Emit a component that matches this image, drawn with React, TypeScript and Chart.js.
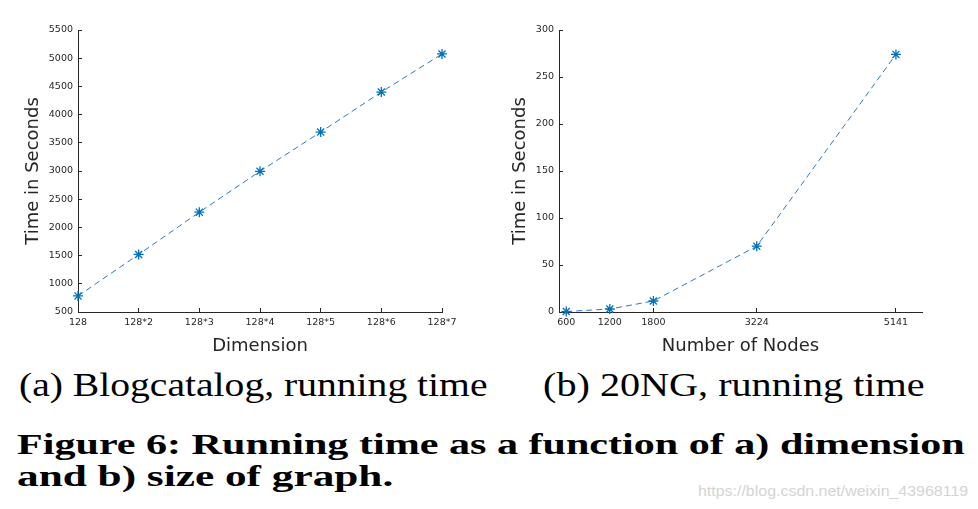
import React, { useEffect, useLayoutEffect, useRef } from "react";
import { Chart, registerables } from "chart.js";

Chart.register(...registerables);

// ---- data ----
const dimLabels = ["128", "128*2", "128*3", "128*4", "128*5", "128*6", "128*7"];
const dimTimes = [785, 1520, 2270, 2995, 3690, 4400, 5075];
const nodeCounts = [600, 1200, 1800, 3224, 5141];
const nodeTimes = [0.5, 3.2, 11.7, 70, 274];

const AX = "#262626";
const BLUE = "#0072BD";
const SANS = "'DejaVu Sans', sans-serif";

function baseDataset(data: any[]) {
  return {
    data,
    borderColor: "#2c78c6",
    borderWidth: 1,
    borderDash: [6, 4],
    pointStyle: "star" as const,
    pointRadius: 5,
    pointBorderColor: BLUE,
    pointBorderWidth: 1.3,
    pointBackgroundColor: BLUE,
    tension: 0,
    clip: false as any,
    fill: false,
  };
}

function axisCommon(titleText: string, titlePad: any, fit: (s: any) => void) {
  return {
    grid: { drawOnChartArea: false, tickLength: -4, color: AX, tickColor: AX, tickWidth: 1 },
    border: { color: AX, width: 1 },
    ticks: {
      font: { family: SANS, size: 9.5 },
      color: AX,
      padding: 9,
      maxRotation: 0,
      autoSkip: false,
    },
    title: {
      display: true,
      text: titleText,
      font: { family: SANS, size: 18 },
      color: AX,
      padding: titlePad,
    },
    afterFit: fit,
  };
}

function LeftChart() {
  const ref = useRef<HTMLCanvasElement>(null);
  useEffect(() => {
    const chart = new Chart(ref.current!, {
      type: "line",
      data: { labels: dimLabels, datasets: [baseDataset(dimTimes) as any] },
      options: {
        animation: false,
        responsive: false,
        devicePixelRatio: 1,
        layout: { autoPadding: false, padding: { left: 0, top: 30, right: 48, bottom: 0 } },
        plugins: { legend: { display: false }, tooltip: { enabled: false } },
        scales: {
          x: {
            type: "category",
            offset: false,
            ...axisCommon("Dimension", { top: 0, bottom: 3 }, (s: any) => { s.height = 48; }),
          } as any,
          y: {
            type: "linear",
            min: 500,
            max: 5500,
            ...axisCommon("Time in Seconds", { top: 23, bottom: 0 }, (s: any) => { s.width = 78; }),
            ticks: {
              font: { family: SANS, size: 9.5 },
              color: AX,
              padding: 9,
              stepSize: 500,
              callback: (v: any) => String(v),
            },
          } as any,
        },
      },
    });
    return () => chart.destroy();
  }, []);
  return <canvas ref={ref} width={490} height={360} style={{ position: "absolute", left: 0, top: 0 }} />;
}

function RightChart() {
  const ref = useRef<HTMLCanvasElement>(null);
  useEffect(() => {
    const chart = new Chart(ref.current!, {
      type: "line",
      data: {
        datasets: [baseDataset(nodeCounts.map((x, i) => ({ x, y: nodeTimes[i] }))) as any],
      },
      options: {
        animation: false,
        responsive: false,
        devicePixelRatio: 1,
        layout: { autoPadding: false, padding: { left: 0, top: 30, right: 56, bottom: 0 } },
        plugins: { legend: { display: false }, tooltip: { enabled: false } },
        scales: {
          x: {
            type: "linear",
            min: 500,
            max: 5500,
            ...axisCommon("Number of Nodes", { top: 0, bottom: 3 }, (s: any) => { s.height = 48; }),
            ticks: {
              font: { family: SANS, size: 9.5 },
              color: AX,
              padding: 9,
              maxRotation: 0,
              autoSkip: false,
              callback: (v: any) => String(v),
            },
            afterBuildTicks: (s: any) => {
              s.ticks = nodeCounts.map((v) => ({ value: v }));
            },
          } as any,
          y: {
            type: "linear",
            min: 0,
            max: 300,
            ...axisCommon("Time in Seconds", { top: 20, bottom: 0 }, (s: any) => { s.width = 69; }),
            ticks: {
              font: { family: SANS, size: 9.5 },
              color: AX,
              padding: 9,
              stepSize: 50,
              callback: (v: any) => String(v),
            },
          } as any,
        },
      },
    });
    return () => chart.destroy();
  }, []);
  return <canvas ref={ref} width={488} height={360} style={{ position: "absolute", left: 490, top: 0 }} />;
}

function FitText(props: {
  text: string;
  left: number;
  baseline: number;
  width: number;
  size: number;
  family: string;
  weight?: number;
  color?: string;
}) {
  const ref = useRef<HTMLSpanElement>(null);
  useLayoutEffect(() => {
    const el = ref.current!;
    el.style.transform = "none";
    const w = el.offsetWidth;
    if (w > 0) el.style.transform = `scaleX(${props.width / w})`;
  }, [props.text, props.width]);
  return (
    <span
      ref={ref}
      style={{
        position: "absolute",
        left: props.left,
        top: props.baseline - 0.8375 * props.size,
        fontFamily: props.family,
        fontSize: props.size,
        fontWeight: props.weight ?? 400,
        lineHeight: `${props.size}px`,
        whiteSpace: "nowrap",
        color: props.color ?? "#000",
        transformOrigin: "0 0",
        display: "inline-block",
      }}
    >
      {props.text}
    </span>
  );
}

const SERIF = "'Liberation Serif', serif";

export default function App() {
  return (
    <div
      style={{
        position: "absolute",
        left: 0,
        top: 0,
        width: 978,
        height: 509,
        background: "#fff",
        overflow: "hidden",
      }}
    >
      <LeftChart />
      <RightChart />
      <FitText text="(a) Blogcatalog, running time" left={19} baseline={397} width={468} size={33} family={SERIF} />
      <FitText text="(b) 20NG, running time" left={543} baseline={397} width={381} size={33} family={SERIF} />
      <FitText
        text="Figure 6: Running time as a function of a) dimension"
        left={17}
        baseline={454}
        width={948}
        size={29}
        weight={700}
        family={SERIF}
      />
      <FitText text="and b) size of graph." left={17} baseline={486} width={376} size={29} weight={700} family={SERIF} />
      <FitText
        text="https://blog.csdn.net/weixin_43968119"
        left={698}
        baseline={496}
        width={270}
        size={14}
        family="'Liberation Sans', sans-serif"
        color="#d4d4d4"
      />
    </div>
  );
}
